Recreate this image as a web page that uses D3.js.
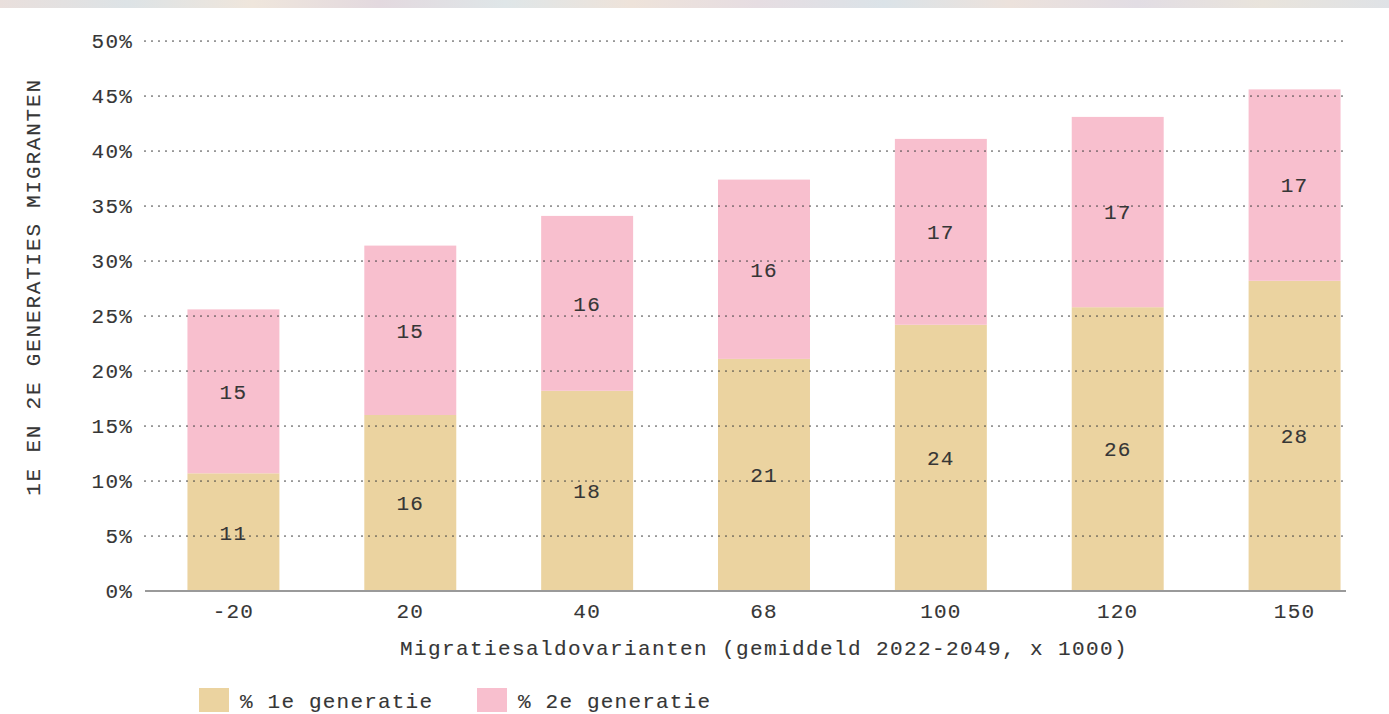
<!DOCTYPE html>
<html>
<head>
<meta charset="utf-8">
<script src="https://cdn.jsdelivr.net/npm/d3@7"></script>
<style>
  body { margin: 0; background: #fff; }
  text { font-family: "Liberation Mono", "DejaVu Sans Mono", monospace; fill: #363636; stroke: #363636; stroke-width: 0.12px; }
</style>
</head>
<body>
<div id="chart"></div>
<script>

const categories = ["-20", "20", "40", "68", "100", "120", "150"];
const eersteGen = [10.7, 16.0, 18.2, 21.1, 24.2, 25.8, 28.2];
const tweedeGen = [14.9, 15.4, 15.9, 16.3, 16.9, 17.3, 17.4];
const yTicks = [0, 5, 10, 15, 20, 25, 30, 35, 40, 45, 50];
const seriesNames = ["% 1e generatie", "% 2e generatie"];
const colors = ["#ebd3a0", "#f8bfce"];

const width = 1389;
const height = 714;

const svg = d3.select("#chart").append("svg")
  .attr("width", width)
  .attr("height", height);

// blurred photo strip at the top
const defs = svg.append("defs");
const grad = defs.append("linearGradient").attr("id", "strip");
const stripCols = ["#e9dfdc", "#dde3e6", "#efe6dc", "#e3d9df", "#dfe6e8", "#eee3da", "#e6dde2", "#dbe3e8", "#ece2dc", "#e2dde4", "#e9e4dc", "#dfe2e6"];
stripCols.forEach((c, i) => {
  grad.append("stop").attr("offset", (i / (stripCols.length - 1) * 100) + "%").attr("stop-color", c);
});
svg.append("rect").attr("x", 0).attr("y", 0).attr("width", width).attr("height", 8).attr("fill", "url(#strip)");

const x = d3.scaleBand()
  .domain(categories)
  .range([145, 1383])
  .paddingInner(0.48)
  .paddingOuter(0.24);

const y = d3.scaleLinear()
  .domain([0, 50])
  .range([591, 41]);

const rows = categories.map((c, i) => ({ cat: c, e1: eersteGen[i], e2: tweedeGen[i] }));
const stack = d3.stack().keys(["e1", "e2"])(rows);

const bars = svg.append("g");
stack.forEach((layer, li) => {
  bars.selectAll(null)
    .data(layer)
    .enter()
    .append("rect")
    .attr("x", d => x(d.data.cat))
    .attr("width", x.bandwidth())
    .attr("y", d => y(d[1]))
    .attr("height", d => y(d[0]) - y(d[1]))
    .attr("fill", colors[li]);
});

// dotted grid on top of bars
const grid = svg.append("g");
grid.selectAll("line")
  .data(yTicks.filter(t => t > 0))
  .enter()
  .append("line")
  .attr("x1", 145)
  .attr("x2", 1346)
  .attr("y1", d => y(d))
  .attr("y2", d => y(d))
  .attr("stroke", "#444")
  .attr("stroke-width", 1.7)
  .attr("stroke-linecap", "round")
  .attr("stroke-dasharray", "0,7");

svg.append("line")
  .attr("x1", 145).attr("x2", 1346)
  .attr("y1", y(0)).attr("y2", y(0))
  .attr("stroke", "#9a9a9a")
  .attr("stroke-width", 2);

// value labels
stack.forEach((layer) => {
  svg.append("g").selectAll("text")
    .data(layer)
    .enter()
    .append("text")
    .attr("x", d => x(d.data.cat) + x.bandwidth() / 2)
    .attr("y", d => y((d[0] + d[1]) / 2))
    .attr("dy", "0.35em")
    .attr("text-anchor", "middle")
    .style("font-size", "21px")
    .style("letter-spacing", "1.2px")
    .text(d => d3.format(".0f")(d[1] - d[0]));
});

// y axis
const yAxis = d3.axisLeft(y).tickValues(yTicks).tickSize(0).tickPadding(0).tickFormat(d => d + "%");
const yg = svg.append("g").attr("transform", "translate(133,0)").call(yAxis);
yg.select(".domain").remove();
yg.selectAll("text")
  .style("font-size", "21px")
  .style("letter-spacing", "1.2px")
  .style("font-family", "'Liberation Mono', monospace")
  .attr("fill", "#363636");

// x axis
const xAxis = d3.axisBottom(x).tickSize(0).tickPadding(0);
const xg = svg.append("g").attr("transform", "translate(0,603)").call(xAxis);
xg.select(".domain").remove();
xg.selectAll("text")
  .style("font-size", "21px")
  .style("letter-spacing", "1.2px")
  .style("font-family", "'Liberation Mono', monospace")
  .attr("fill", "#363636");

svg.append("text")
  .attr("x", 764)
  .attr("y", 655)
  .attr("text-anchor", "middle")
  .style("font-size", "21px")
  .style("letter-spacing", "1.4px")
  .text("Migratiesaldovarianten (gemiddeld 2022-2049, x 1000)");

svg.append("text")
  .attr("transform", "translate(40,287) rotate(-90)")
  .attr("text-anchor", "middle")
  .style("font-size", "21px")
  .style("letter-spacing", "1.8px")
  .text("1E EN 2E GENERATIES MIGRANTEN");

// legend
const legX = [199, 477];
seriesNames.forEach((s, i) => {
  svg.append("rect")
    .attr("x", legX[i]).attr("y", 688)
    .attr("width", 30).attr("height", 24)
    .attr("fill", colors[i]);
  svg.append("text")
    .attr("x", legX[i] + 41)
    .attr("y", 708)
    .style("font-size", "21px")
    .style("letter-spacing", "1.2px")
    .text(s);
});
</script>
</body>
</html>
